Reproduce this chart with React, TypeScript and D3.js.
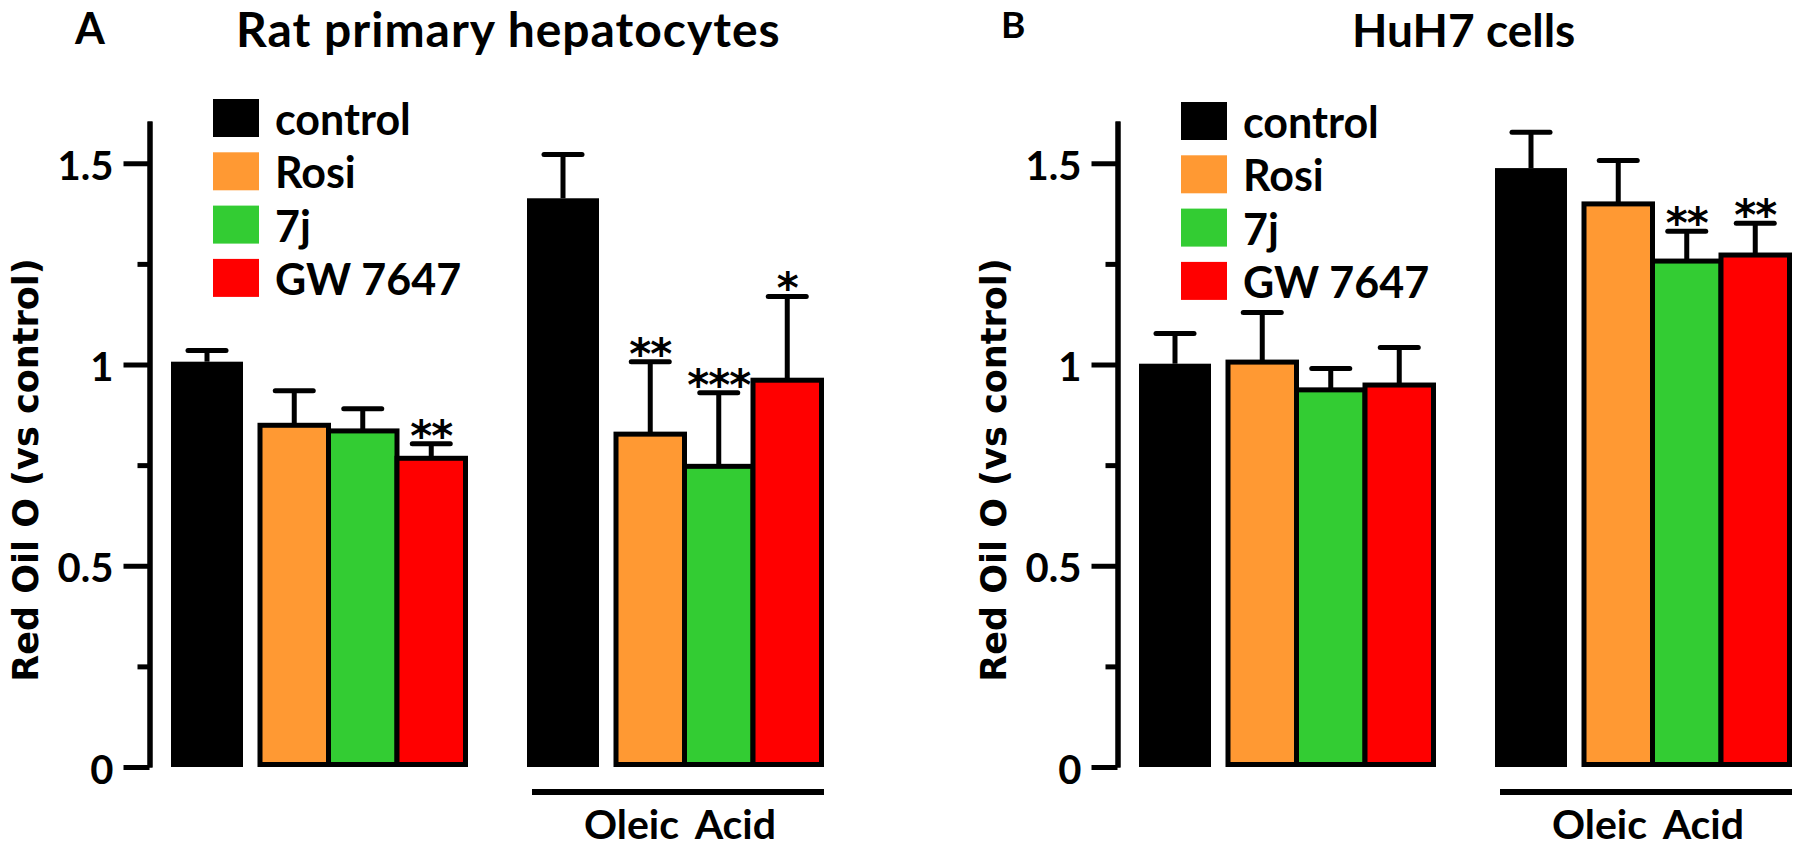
import React, { useEffect, useRef } from "react";
import * as d3 from "d3";

const treatments = ["control", "Rosi", "7j", "GW 7647"];
const colors = ["#000000", "#ff9933", "#33cc33", "#ff0000"];
const groups = ["basal", "oleic"];
const yTicks = [0, 0.5, 1, 1.5];
const yMinorTicks = [0.25, 0.75, 1.25];

// panel A - rat primary hepatocytes
const ratBasal = [1.007, 0.849, 0.835, 0.767];
const ratBasalErr = [0.028, 0.086, 0.055, 0.036];
const ratBasalStars = ["", "", "", "**"];
const ratOleic = [1.413, 0.827, 0.747, 0.961];
const ratOleicErr = [0.109, 0.18, 0.183, 0.208];
const ratOleicStars = ["", "**", "***", "*"];

// panel B - HuH7 cells
const huhBasal = [1.002, 1.006, 0.937, 0.949];
const huhBasalErr = [0.075, 0.123, 0.053, 0.093];
const huhBasalStars = ["", "", "", ""];
const huhOleic = [1.488, 1.399, 1.257, 1.272];
const huhOleicErr = [0.089, 0.108, 0.074, 0.079];
const huhOleicStars = ["", "", "**", "**"];

const LATO = "Lato, 'Open Sans', sans-serif";
const DEJAVU = "'DejaVu Sans', sans-serif";

const drawPanel = (svg, p) => {
  const g = svg.append("g").attr("transform", `translate(${p.dx},0)`);

  const y = d3.scaleLinear().domain([0, 1.605]).range([767, 121]);
  const xGroup = d3.scaleBand().domain(groups).range([171, 883]);
  const barW = 68.5;
  const ctrlW = 72;

  // letter + title
  g.append("text")
    .attr("x", p.letterX)
    .attr("y", p.letterY)
    .attr("font-family", LATO)
    .attr("font-weight", 700)
    .attr("font-size", p.letterSize)
    .text(p.letter);
  g.append("text")
    .attr("x", p.titleX)
    .attr("y", 47)
    .attr("font-family", LATO)
    .attr("font-weight", 700)
    .attr("font-size", p.titleSize)
    .attr("letter-spacing", p.titleSpacing)
    .text(p.title);

  // y axis
  const axis = g.append("g").attr("transform", "translate(149.5,0)");
  axis.call(
    d3.axisLeft(y).tickValues(yTicks).tickSize(26).tickSizeOuter(0).tickPadding(10)
      .tickFormat((d) => String(d))
  );
  axis.append("g").call(
    d3.axisLeft(y).tickValues(yMinorTicks).tickSize(12).tickSizeOuter(0).tickFormat(() => "")
  );
  axis.selectAll("path.domain").attr("stroke", "#000").attr("stroke-width", 5);
  axis.selectAll(".tick line").attr("stroke", "#000").attr("stroke-width", 5);
  axis.selectAll(".tick text")
    .attr("font-family", LATO)
    .attr("font-weight", 700)
    .attr("font-size", 40)
    .attr("dy", "0.4em")
    .attr("fill", "#000");
  axis.attr("font-size", null).attr("font-family", null);

  g.append("text")
    .attr("transform", "translate(38,470) rotate(-90)")
    .attr("text-anchor", "middle")
    .attr("font-family", DEJAVU)
    .attr("font-weight", 700)
    .attr("font-size", 35)
    .text("Red Oil O (vs control)");

  // legend
  const leg = g.append("g").attr("transform", `translate(213,${p.legendY})`);
  treatments.forEach((t, i) => {
    leg.append("rect")
      .attr("x", 0)
      .attr("y", i * 53.3)
      .attr("width", 46)
      .attr("height", 38)
      .attr("fill", colors[i]);
    leg.append("text")
      .attr("x", 62)
      .attr("y", i * 53.3 + 36)
      .attr("font-family", LATO)
      .attr("font-weight", 700)
      .attr("font-size", 43)
      .text(t);
  });

  // bars
  const sets = [
    { key: "basal", vals: p.basal, errs: p.basalErr, stars: p.basalStars },
    { key: "oleic", vals: p.oleic, errs: p.oleicErr, stars: p.oleicStars },
  ];
  sets.forEach((s) => {
    const gx = xGroup(s.key);
    s.vals.forEach((v, i) => {
      const left = i === 0 ? gx : gx + 89 + (i - 1) * barW;
      const w = i === 0 ? ctrlW : barW;
      const cx = left + w / 2;
      const top = y(v + s.errs[i]);

      // error bar
      g.append("line")
        .attr("x1", cx).attr("x2", cx)
        .attr("y1", y(v)).attr("y2", top)
        .attr("stroke", "#000").attr("stroke-width", 5);
      g.append("line")
        .attr("x1", cx - 19).attr("x2", cx + 19)
        .attr("y1", top).attr("y2", top)
        .attr("stroke", "#000").attr("stroke-width", 5)
        .attr("stroke-linecap", "round");

      if (i === 0) {
        g.append("rect")
          .attr("x", left).attr("y", y(v))
          .attr("width", w).attr("height", y(0) - y(v))
          .attr("fill", colors[i]);
      } else {
        g.append("rect")
          .attr("x", left).attr("y", y(v))
          .attr("width", w).attr("height", y(0) - 2.5 - y(v))
          .attr("fill", colors[i])
          .attr("stroke", "#000").attr("stroke-width", 5);
      }

      if (s.stars[i]) {
        g.append("text")
          .attr("x", cx)
          .attr("y", top + 7)
          .attr("text-anchor", "middle")
          .attr("font-family", DEJAVU)
          .attr("font-weight", 700)
          .attr("font-size", 42)
          .attr("letter-spacing", -1)
          .text(s.stars[i]);
      }
    });
  });

  // oleic acid bracket
  const ox = xGroup("oleic");
  g.append("line")
    .attr("x1", ox + 5).attr("x2", ox + 297)
    .attr("y1", 792).attr("y2", 792)
    .attr("stroke", "#000").attr("stroke-width", 6);
  g.append("text")
    .attr("x", ox + 153)
    .attr("y", 839)
    .attr("text-anchor", "middle")
    .attr("font-family", LATO)
    .attr("font-weight", 700)
    .attr("font-size", 41)
    .attr("word-spacing", 7)
    .text("Oleic Acid");
};

const App = () => {
  const svgRef = useRef(null);

  useEffect(() => {
    const svg = d3.select(svgRef.current);
    svg.selectAll("*").remove();

    drawPanel(svg, {
      dx: 0,
      letter: "A",
      letterX: 75,
      letterY: 44,
      letterSize: 43,
      title: "Rat primary hepatocytes",
      titleX: 236,
      titleSize: 48,
      titleSpacing: 1,
      legendY: 99,
      basal: ratBasal,
      basalErr: ratBasalErr,
      basalStars: ratBasalStars,
      oleic: ratOleic,
      oleicErr: ratOleicErr,
      oleicStars: ratOleicStars,
    });

    drawPanel(svg, {
      dx: 968,
      letter: "B",
      letterX: 33,
      letterY: 38,
      letterSize: 37,
      title: "HuH7 cells",
      titleX: 384,
      titleSize: 46,
      titleSpacing: 0,
      legendY: 102,
      basal: huhBasal,
      basalErr: huhBasalErr,
      basalStars: huhBasalStars,
      oleic: huhOleic,
      oleicErr: huhOleicErr,
      oleicStars: huhOleicStars,
    });
  }, []);

  return (
    <svg
      ref={svgRef}
      width={1800}
      height={848}
      style={{ position: "absolute", left: 0, top: 0, background: "#fff" }}
    ></svg>
  );
};

export default App;
